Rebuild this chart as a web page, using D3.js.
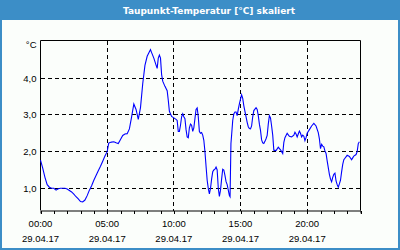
<!DOCTYPE html>
<html>
<head>
<meta charset="utf-8">
<script src="https://cdn.jsdelivr.net/npm/d3@7"></script>
<style>
  body { margin: 0; background: #fbfefb; }
  svg { display: block; }
</style>
</head>
<body>
<div class="chart"></div>
<script>
// Taupunkt-Temperatur, 29.04.17
var day = "29.04.17";
var times = [
  "00:00","00:10","00:20","00:30","00:40","00:50","01:00","01:10","01:20","01:30","01:40","01:50",
  "02:00","02:10","02:20","02:30","02:40","02:50","03:00","03:10","03:20","03:30","03:40","03:50",
  "04:00","04:10","04:20","04:30","04:40","04:50","05:00","05:07","05:10","05:20","05:30","05:40","05:50",
  "06:00","06:10","06:20","06:30","06:40","06:50","07:00","07:10","07:20","07:30","07:40","07:50",
  "08:00","08:10","08:15","08:20","08:30","08:40","08:45","08:50","08:55","09:00","09:05","09:10",
  "09:20","09:30","09:35","09:40","09:50","10:00","10:10","10:15","10:20","10:25","10:30","10:35",
  "10:40","10:45","10:50","10:55","11:00","11:05","11:10","11:15","11:20","11:25","11:30","11:35",
  "11:40","11:45","11:50","11:55","12:00","12:05","12:10","12:15","12:20","12:25","12:30","12:35",
  "12:40","12:45","12:50","12:55","13:00","13:05","13:10","13:15","13:20","13:25","13:30","13:35",
  "13:40","13:45","13:50","13:55","14:00","14:05","14:10","14:13","14:17","14:20","14:25","14:30",
  "14:35","14:40","14:45","14:50","14:55","15:00","15:05","15:10","15:15","15:20","15:25","15:30",
  "15:35","15:40","15:45","15:50","15:55","16:00","16:10","16:15","16:20","16:25","16:30","16:35",
  "16:40","16:45","16:50","16:55","17:00","17:05","17:10","17:15","17:20","17:25","17:30","17:40",
  "17:50","18:00","18:05","18:10","18:15","18:20","18:30","18:40","18:50","19:00","19:05","19:10",
  "19:15","19:20","19:25","19:30","19:35","19:40","19:45","19:50","19:55","20:00","20:10","20:20",
  "20:30","20:40","20:50","20:55","21:00","21:05","21:10","21:15","21:20","21:25","21:30","21:40",
  "21:45","21:50","21:55","22:00","22:05","22:10","22:15","22:20","22:25","22:30","22:35","22:40",
  "22:45","22:50","23:00","23:10","23:20","23:25","23:30","23:40","23:45","23:50","23:55"
];
var dewpoint = [
  1.77,1.55,1.30,1.10,1.03,1.00,1.00,0.95,0.99,1.00,1.00,1.00,
  0.98,0.94,0.90,0.84,0.77,0.71,0.64,0.63,0.68,0.80,0.95,1.07,
  1.22,1.35,1.48,1.60,1.74,1.88,2.00,2.23,2.24,2.26,2.27,2.24,2.22,
  2.33,2.44,2.48,2.49,2.62,2.95,3.30,3.15,2.88,3.20,3.85,4.35,
  4.60,4.72,4.78,4.70,4.55,4.36,4.27,4.55,4.63,4.55,4.10,3.92,
  3.78,3.66,3.40,3.10,2.96,2.92,2.88,2.85,2.55,2.55,2.72,2.95,
  3.03,2.95,2.90,2.60,2.40,2.38,2.65,2.75,2.72,2.55,2.65,2.90,
  3.15,3.19,2.95,2.55,2.50,2.52,2.45,2.31,2.00,1.60,1.22,1.00,
  0.85,1.00,1.25,1.45,1.50,1.52,1.58,1.50,1.00,0.78,0.95,1.25,
  1.52,1.50,1.35,1.18,1.10,0.95,0.80,0.77,2.22,2.45,2.85,3.03,
  3.08,3.08,2.98,3.15,3.30,3.43,3.55,3.45,3.25,3.10,2.95,2.80,
  2.68,2.63,2.62,2.70,2.95,3.12,3.20,3.15,2.98,2.75,2.58,2.32,
  2.24,2.22,2.28,2.35,2.44,2.75,2.98,2.92,2.70,2.45,2.04,2.03,
  2.12,2.05,2.00,1.95,2.25,2.38,2.50,2.42,2.40,2.45,2.53,2.48,
  2.40,2.48,2.56,2.50,2.40,2.45,2.42,2.30,2.38,2.50,2.60,2.70,
  2.77,2.70,2.52,2.35,2.08,2.20,2.15,2.13,2.02,1.95,1.75,1.38,
  1.25,1.18,1.30,1.38,1.41,1.20,1.10,1.03,1.12,1.22,1.45,1.65,
  1.78,1.82,1.90,1.87,1.78,1.83,1.88,1.92,2.00,2.22,2.27
];
var yTicks = [1, 2, 3, 4];
var yLabels = ["1,0", "2,0", "3,0", "4,0"];
var xLabelHours = [0, 5, 10, 15, 20];
var title = "Taupunkt-Temperatur [°C] skaliert";
var unit = "°C";

var svgWidth = 400;
var svgHeight = 250;
var margin = { top: 40.5, right: 39.5, bottom: 39.5, left: 40.5 };
var width = svgWidth - margin.left - margin.right;
var height = svgHeight - margin.top - margin.bottom;

var parseTime = d3.timeParse("%d.%m.%y %H:%M");
var data = times.map(function(t, i) {
    return { date: parseTime(day + " " + t), value: dewpoint[i] };
});
var start = parseTime(day + " 00:00");
var end = d3.timeDay.offset(start, 1);

var svg = d3.select(".chart")
    .append("svg")
    .attr("width", svgWidth)
    .attr("height", svgHeight);

// frame + title bar
svg.append("rect")
    .attr("x", 0).attr("y", 0)
    .attr("width", svgWidth).attr("height", svgHeight)
    .attr("fill", "#fbfefb");
svg.append("rect")
    .attr("x", 1).attr("y", 1)
    .attr("width", svgWidth - 2).attr("height", svgHeight - 2)
    .attr("fill", "none")
    .attr("stroke", "#3c8ec7")
    .attr("stroke-width", 2);
svg.append("rect")
    .attr("x", 0).attr("y", 0)
    .attr("width", svgWidth).attr("height", 20)
    .attr("fill", "#3c8ec7");
svg.append("text")
    .attr("x", 209)
    .attr("y", 14)
    .attr("text-anchor", "middle")
    .style("font-family", "'DejaVu Sans', sans-serif")
    .style("font-weight", "bold")
    .style("font-size", "9px")
    .style("fill", "#ffffff")
    .text(title);

var chartGroup = svg.append("g")
    .attr("transform", `translate(${margin.left}, ${margin.top})`);

var xScale = d3.scaleTime()
    .domain([start, end])
    .range([0, width]);

var yScale = d3.scaleLinear()
    .domain([0.395, 5.03])
    .range([height, 0]);

// grid
chartGroup.append("g")
    .selectAll("line")
    .data(yTicks)
    .enter()
    .append("line")
    .attr("x1", 0).attr("x2", width)
    .attr("y1", d => Math.round(yScale(d)))
    .attr("y2", d => Math.round(yScale(d)))
    .attr("stroke", "#000")
    .attr("shape-rendering", "crispEdges")
    .attr("stroke-dasharray", "4,3");

chartGroup.append("g")
    .selectAll("line")
    .data(xLabelHours.filter(h => h > 0))
    .enter()
    .append("line")
    .attr("x1", d => Math.round(xScale(d3.timeHour.offset(start, d))))
    .attr("x2", d => Math.round(xScale(d3.timeHour.offset(start, d))))
    .attr("y1", 0).attr("y2", height)
    .attr("stroke", "#000")
    .attr("shape-rendering", "crispEdges")
    .attr("stroke-dasharray", "4,3");

// bottom axis with hourly ticks
var bottomAxis = d3.axisBottom(xScale)
    .ticks(d3.timeHour.every(1))
    .tickSize(3)
    .tickFormat("");
chartGroup.append("g")
    .attr("transform", `translate(0, ${height})`)
    .call(bottomAxis)
    .call(g => g.select(".domain").attr("stroke", "#000"))
    .call(g => g.selectAll(".tick line").attr("shape-rendering", "crispEdges"));

// plot frame (top, left, right)
chartGroup.append("path")
    .attr("d", `M0,${height}V0H${width}V${height}`)
    .attr("fill", "none")
    .attr("stroke", "#000");

// x labels
var xLab = chartGroup.append("g")
    .selectAll("g")
    .data(xLabelHours)
    .enter()
    .append("g")
    .attr("transform", d => `translate(${xScale(d3.timeHour.offset(start, d))}, 0)`)
    .style("font-family", "'Liberation Sans', Arial, sans-serif")
    .style("font-size", "9.5px")
    .style("fill", "#000")
    .attr("text-anchor", "middle");
xLab.append("text")
    .attr("y", height + 16)
    .text(d => d3.timeFormat("%H:%M")(d3.timeHour.offset(start, d)));
xLab.append("text")
    .attr("y", height + 31)
    .text(day);

// y labels
chartGroup.append("g")
    .selectAll("text")
    .data(yTicks)
    .enter()
    .append("text")
    .attr("x", -4)
    .attr("y", d => yScale(d) + 3.3)
    .attr("text-anchor", "end")
    .style("font-family", "'Liberation Sans', Arial, sans-serif")
    .style("font-size", "9.5px")
    .style("fill", "#000")
    .text((d, i) => yLabels[i]);

chartGroup.append("text")
    .attr("x", -4)
    .attr("y", 7)
    .attr("text-anchor", "end")
    .style("font-family", "'Liberation Sans', Arial, sans-serif")
    .style("font-size", "9.5px")
    .style("fill", "#000")
    .text(unit);

// line
var line = d3.line()
    .x(d => xScale(d.date))
    .y(d => yScale(d.value));

chartGroup.append("path")
    .datum(data)
    .attr("d", line)
    .attr("fill", "none")
    .attr("stroke", "#0000ff")
    .attr("stroke-width", 1.1);
</script>
</body>
</html>
